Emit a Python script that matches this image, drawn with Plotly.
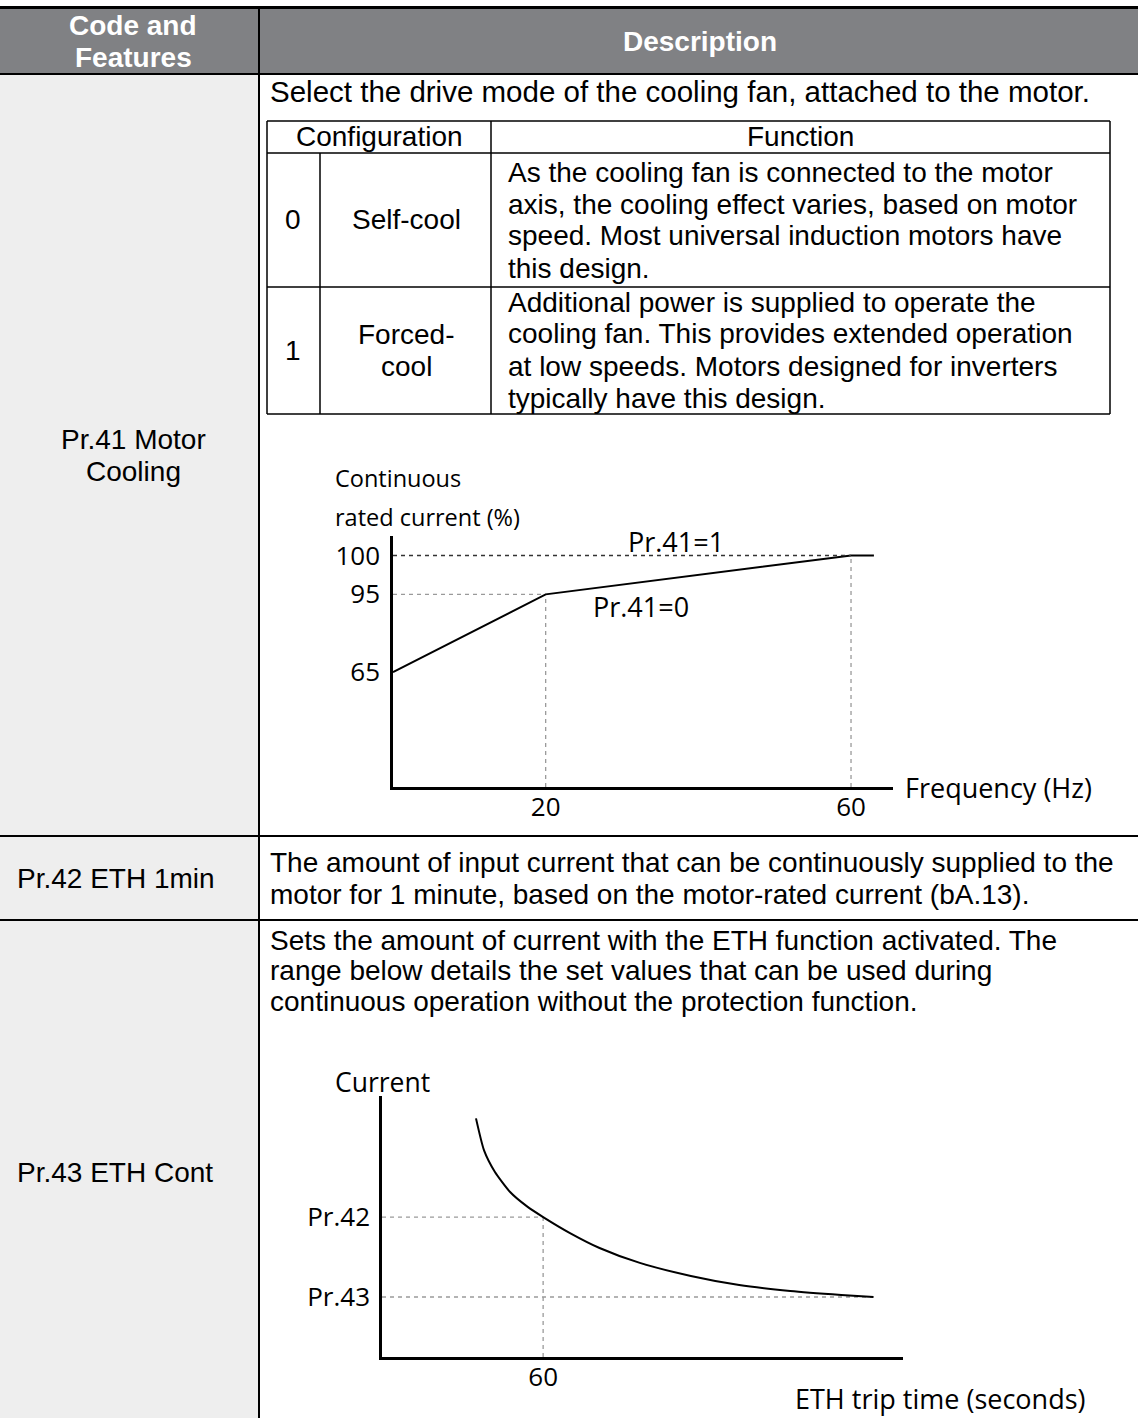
import plotly.graph_objects as go

W, H = 1138, 1418

# ---------------- data ----------------
# Chart 1: continuous rated current vs. frequency (Pr.41 Motor Cooling)
freq_hz = [0, 20, 60, 63]
rated_current_pct = [65, 95, 100, 100]          # Pr.41 = 0 (self-cool)
forced_freq_hz = [0, 60]
forced_current_pct = [100, 100]                 # Pr.41 = 1 (forced-cool)
chart1_levels = ["65", " ", "95", "100"]        # schematic (non-proportional) level order
chart1_x_ticks = [20, 60]

# Chart 2: current vs. ETH trip time
trip_time_s = [35, 38, 42, 47.7, 54, 60, 70, 81, 96, 115, 133, 152, 171, 183]
trip_current_pct = [187, 175, 167, 159.4, 154, 150, 144, 138.4, 132.8, 127.9, 124.5, 122.3, 120.8, 120]
eth_levels = [150, 120]
eth_level_labels = ["Pr.42", "Pr.43"]
trip_x_ticks = [60]

# Table text
header_left = ["Code and", "Features"]
header_right = "Description"
pr41_name = ["Pr.41 Motor", "Cooling"]
pr41_intro = "Select the drive mode of the cooling fan, attached to the motor."
cfg_header = ["Configuration", "Function"]
cfg_codes = ["0", "1"]
cfg_names = [["Self-cool"], ["Forced-", "cool"]]
cfg_funcs = [
    ["As the cooling fan is connected to the motor",
     "axis, the cooling effect varies, based on motor",
     "speed. Most universal induction motors have",
     "this design."],
    ["Additional power is supplied to operate the",
     "cooling fan. This provides extended operation",
     "at low speeds. Motors designed for inverters",
     "typically have this design."],
]
pr42_name = "Pr.42 ETH 1min"
pr42_desc = ["The amount of input current that can be continuously supplied to the",
             "motor for 1 minute, based on the motor-rated current (bA.13)."]
pr43_name = "Pr.43 ETH Cont"
pr43_desc = ["Sets the amount of current with the ETH function activated. The",
             "range below details the set values that can be used during",
             "continuous operation without the protection function."]

# ---------------- helpers ----------------
def px(x):
    return x / W


def py(y):
    return 1 - y / H


TF = "Liberation Sans, Arial, sans-serif"
TS = 28
CF = "Open Sans, sans-serif"
CS = 26          # chart tick labels
CT = 26          # chart annotations

shapes = []
annotations = []


def rect(x0, y0, x1, y1, color, layer="below"):
    shapes.append(dict(type="rect", xref="paper", yref="paper",
                       x0=px(x0), x1=px(x1), y0=py(y0), y1=py(y1),
                       fillcolor=color, line=dict(width=0), layer=layer))


def line(x0, y0, x1, y1, w=1.5, color="black"):
    shapes.append(dict(type="line", xref="paper", yref="paper",
                       x0=px(x0), x1=px(x1), y0=py(y0), y1=py(y1),
                       line=dict(color=color, width=w), layer="above"))


def txt(x, y, s, anchor="left", size=TS, family=TF, color="black"):
    annotations.append(dict(xref="paper", yref="paper", x=px(x), y=py(y),
                            text=s, showarrow=False, xanchor=anchor,
                            yanchor="middle", align=anchor,
                            font=dict(family=family, size=size, color=color)))


# ---------------- table frame ----------------
rect(0, 9, W, 73, "#808184")           # header band
rect(0, 75, 258, H, "#eeeeee")         # left column
rect(0, 6, W, 9, "black", "above")     # top rule
rect(0, 73, W, 75, "black", "above")   # header bottom rule
rect(258, 9, 260, H, "black", "above") # column separator
rect(0, 835, W, 837, "black", "above")
rect(0, 919, W, 921, "black", "above")

# header text
txt(133, 26, "<b>" + header_left[0] + "</b>", "center", color="white")
txt(133, 57, "<b>" + header_left[1] + "</b>", "center", color="white")
txt(700, 42, "<b>" + header_right + "</b>", "center", color="white")

# left column names
txt(133, 440, pr41_name[0], "center")
txt(133, 471, pr41_name[1], "center")
txt(15, 878, pr42_name, "left")
txt(15, 1172, pr43_name, "left")

# Pr.41 description
txt(268, 91, pr41_intro, size=29.5)

# inner configuration table
L, R, T = 267, 1110, 121
row_bounds = [153, 287, 414]
line_starts = [172, 302]
line(L, T, R, T)
for yb in row_bounds:
    line(L, yb, R, yb)
line(L, T, L, row_bounds[2])
line(R, T, R, row_bounds[2])
line(320, row_bounds[0], 320, row_bounds[2])
line(491, T, 491, row_bounds[2])
txt(379, 137, cfg_header[0], "center")
txt(800, 137, cfg_header[1], "center")
for i in range(2):
    top, bot = row_bounds[i], row_bounds[i + 1]
    mid = (top + bot) / 2
    txt(293, mid, cfg_codes[i], "center")
    names = cfg_names[i]
    for k, nm in enumerate(names):
        txt(406, mid + (k - (len(names) - 1) / 2) * 32, nm, "center")
    for k, fl in enumerate(cfg_funcs[i]):
        txt(506, line_starts[i] + k * 32, fl)

# Pr.42 / Pr.43 descriptions
for k, s in enumerate(pr42_desc):
    txt(268, 862 + k * 32, s)
for k, s in enumerate(pr43_desc):
    txt(268, 940 + k * 30.5, s)

# ---------------- chart 1 ----------------
c1_xrange = [0, 65.5]
c1_yrange = [-2.95, 3.5]
fig = go.Figure()
fig.add_trace(go.Scatter(x=freq_hz, y=[str(v) for v in rated_current_pct],
                         mode="lines", line=dict(color="black", width=2),
                         xaxis="x", yaxis="y", showlegend=False, hoverinfo="skip"))
fig.add_trace(go.Scatter(x=forced_freq_hz, y=[str(v) for v in forced_current_pct],
                         mode="lines", line=dict(color="#333333", width=1.6, dash="4px,4px"),
                         xaxis="x", yaxis="y", showlegend=False, hoverinfo="skip"))

GRAY = "#9a9a9a"
idx95 = chart1_levels.index(str(rated_current_pct[1]))
idx100 = chart1_levels.index(str(rated_current_pct[2]))
shapes.append(dict(type="line", xref="x", yref="y", x0=0, x1=freq_hz[1], y0=idx95, y1=idx95,
                   line=dict(color=GRAY, width=1.3, dash="4px,4px"), layer="below"))
shapes.append(dict(type="line", xref="x", yref="y", x0=freq_hz[1], x1=freq_hz[1],
                   y0=c1_yrange[0], y1=idx95,
                   line=dict(color=GRAY, width=1.3, dash="4px,4px"), layer="below"))
shapes.append(dict(type="line", xref="x", yref="y", x0=freq_hz[2], x1=freq_hz[2],
                   y0=c1_yrange[0], y1=idx100,
                   line=dict(color=GRAY, width=1.3, dash="4px,4px"), layer="below"))

annotations.append(dict(xref="x", yref="y", x=37.1, y=idx100, yshift=14, text="Pr.41=1",
                        showarrow=False, xanchor="center", yanchor="middle",
                        font=dict(family=CF, size=27, color="black")))
annotations.append(dict(xref="x", yref="y", x=32.5, y=idx95, yshift=-12, text="Pr.41=0",
                        showarrow=False, xanchor="center", yanchor="middle",
                        font=dict(family=CF, size=27, color="black")))
txt(333, 478, "Continuous", "left", 23.5, CF)
txt(333, 517, "rated current (%)", "left", 23.5, CF)
txt(903, 787, "Frequency (Hz)", "left", 27, CF)

# ---------------- chart 2 ----------------
c2_xrange = [0, 194]
c2_yrange = [97.5, 195.4]
fig.add_trace(go.Scatter(x=trip_time_s, y=trip_current_pct, mode="lines",
                         line=dict(color="black", width=2, shape="spline", smoothing=0.6),
                         xaxis="x2", yaxis="y2", showlegend=False, hoverinfo="skip"))
shapes.append(dict(type="line", xref="x2", yref="y2", x0=0, x1=trip_x_ticks[0],
                   y0=eth_levels[0], y1=eth_levels[0],
                   line=dict(color=GRAY, width=1.3, dash="4px,4px"), layer="below"))
shapes.append(dict(type="line", xref="x2", yref="y2", x0=trip_x_ticks[0], x1=trip_x_ticks[0],
                   y0=c2_yrange[0], y1=eth_levels[0],
                   line=dict(color=GRAY, width=1.3, dash="4px,4px"), layer="below"))
shapes.append(dict(type="line", xref="x2", yref="y2", x0=0, x1=trip_time_s[-1],
                   y0=eth_levels[1], y1=eth_levels[1],
                   line=dict(color=GRAY, width=1.3, dash="4px,4px"), layer="below"))
txt(333, 1082, "Current", "left", 26.5, CF)
txt(1088, 1398, "ETH trip time (seconds)", "right", 27, CF)

axis_common = dict(showline=True, linecolor="black", linewidth=2.5, showgrid=False,
                   zeroline=False, ticks="", tickfont=dict(family=CF, size=CS, color="black"),
                   fixedrange=True)

fig.update_layout(
    width=W, height=H,
    margin=dict(l=0, r=0, t=0, b=0),
    paper_bgcolor="white", plot_bgcolor="rgba(0,0,0,0)",
    showlegend=False,
    xaxis=dict(domain=[px(393), px(893)], range=c1_xrange, anchor="y",
               tickmode="array", tickvals=chart1_x_ticks, ticklabelstandoff=-5, **axis_common),
    yaxis=dict(domain=[py(787), py(536)], range=c1_yrange, anchor="x", type="category",
               categoryorder="array", categoryarray=chart1_levels,
               ticklabelstandoff=5, **axis_common),
    xaxis2=dict(domain=[px(382), px(903)], range=c2_xrange, anchor="y2",
                tickmode="array", tickvals=trip_x_ticks, ticklabelstandoff=-5, **axis_common),
    yaxis2=dict(domain=[py(1357), py(1096)], range=c2_yrange, anchor="x2",
                tickmode="array", tickvals=eth_levels, ticktext=eth_level_labels,
                ticklabelstandoff=4, **axis_common),
    shapes=shapes,
    annotations=annotations,
)

fig.write_html("out.html", config={"displayModeBar": False},
               post_script="document.body.style.margin='0';document.body.style.padding='0';")
